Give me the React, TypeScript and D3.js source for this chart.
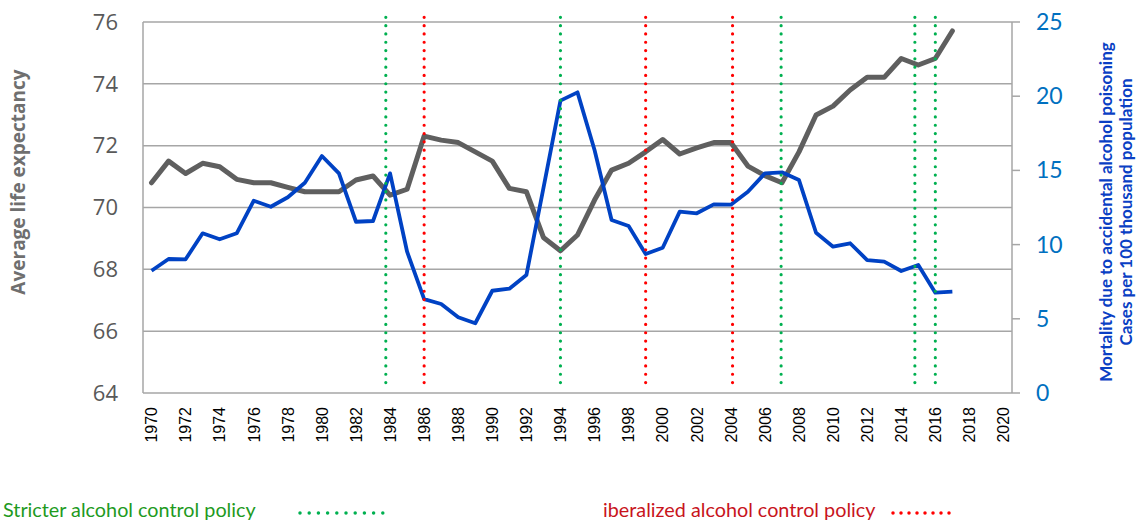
import * as d3 from "d3";

const years = d3.range(1970, 2018);
const tickYears = d3.range(1970, 2021, 2);

const lifeExpectancy = [
  70.8, 71.5, 71.1, 71.43, 71.32, 70.91, 70.8, 70.8, 70.65, 70.51, 70.51, 70.51,
  70.89, 71.02, 70.4, 70.59, 72.31, 72.18, 72.1, 71.8, 71.5, 70.62, 70.51, 69.03,
  68.6, 69.11, 70.24, 71.21, 71.43, 71.8, 72.2, 71.73, 71.93, 72.1, 72.1, 71.34,
  71.03, 70.8, 71.8, 72.99, 73.28, 73.8, 74.21, 74.21, 74.82, 74.61, 74.82, 75.71,
];

const poisoningMortality = [
  8.24, 9.03, 9.01, 10.76, 10.36, 10.76, 12.96, 12.55, 13.19, 14.17, 15.97, 14.8,
  11.54, 11.59, 14.8, 9.52, 6.33, 6.0, 5.1, 4.7, 6.89, 7.03, 7.95, 13.8, 19.7,
  20.26, 16.37, 11.66, 11.25, 9.37, 9.79, 12.22, 12.11, 12.71, 12.69, 13.56, 14.8,
  14.87, 14.35, 10.8, 9.86, 10.09, 8.96, 8.85, 8.22, 8.63, 6.76, 6.83,
];

// policy change markers (year positions as drawn)
const stricterYears = [1983.75, 1994, 2006.95, 2014.8, 2016];
const liberalizedYears = [1986, 1999, 2004.1];

const leftTicks = [64, 66, 68, 70, 72, 74, 76];
const rightTicks = [0, 5, 10, 15, 20, 25];

const W = 1136;
const H = 521;
const left = 143;
const right = 1012;
const top = 22;
const bottom = 393;

export default function App() {
  const x = d3
    .scaleLinear()
    .domain([1969.5, 2020.5])
    .range([left, right]);
  const yL = d3.scaleLinear().domain([64, 76]).range([bottom, top]);
  const yR = d3.scaleLinear().domain([0, 25]).range([bottom, top]);

  const lifeLine = d3
    .line<number>()
    .x((_, i) => x(years[i]))
    .y((d) => yL(d));
  const mortLine = d3
    .line<number>()
    .x((_, i) => x(years[i]))
    .y((d) => yR(d));

  const grid = "#a6a6a6";

  return (
    <svg
      width={W}
      height={H}
      style={{ position: "absolute", left: 0, top: 0, background: "#fff" }}
    >
      {/* gridlines */}
      {leftTicks.map((t) => (
        <line
          key={t}
          x1={left}
          x2={right}
          y1={yL(t)}
          y2={yL(t)}
          stroke={grid}
          strokeWidth={1.5}
        />
      ))}
      <line x1={left} x2={left} y1={top} y2={bottom} stroke={grid} strokeWidth={1.5} />
      <line x1={right} x2={right} y1={top} y2={bottom} stroke={grid} strokeWidth={1.5} />
      {rightTicks.map((t) => (
        <line
          key={t}
          x1={right}
          x2={right + 8}
          y1={yR(t)}
          y2={yR(t)}
          stroke={grid}
          strokeWidth={1.5}
        />
      ))}

      {/* left axis labels */}
      {leftTicks.map((t) => (
        <text
          key={t}
          x={118}
          y={yL(t)}
          dy="0.35em"
          textAnchor="end"
          fontFamily="'Open Sans', sans-serif"
          fontSize={22}
          fill="#595959"
        >
          {t}
        </text>
      ))}
      <text
        transform={`translate(25, 182) rotate(-90)`}
        textAnchor="middle"
        fontFamily="'Open Sans', sans-serif"
        fontWeight="bold"
        fontSize={19}
        fill="#6f6f6f"
      >
        Average life expectancy
      </text>

      {/* right axis labels */}
      {rightTicks.map((t) => (
        <text
          key={t}
          x={1036}
          y={yR(t)}
          dy="0.35em"
          fontFamily="Lato, sans-serif"
          fontSize={23}
          fill="#0070c0"
        >
          {t}
        </text>
      ))}
      <text
        transform={`translate(1112, 212) rotate(-90)`}
        textAnchor="middle"
        fontFamily="Lato, sans-serif"
        fontWeight="bold"
        fontSize={17}
        fill="#0a3fc4"
      >
        <tspan x={0} dy={0}>
          Mortality due to accidental alcohol poisoning
        </tspan>
        <tspan x={0} dy={20}>
          Cases per 100 thousand population
        </tspan>
      </text>

      {/* x labels */}
      {tickYears.map((yr) => (
        <text
          key={yr}
          transform={`translate(${x(yr)}, 407) rotate(-90)`}
          textAnchor="end"
          dy="0.36em"
          fontFamily="'Liberation Sans', Arial, sans-serif"
          fontSize={16}
          fill="#000"
        >
          {yr}
        </text>
      ))}

      {/* series */}
      <path
        d={lifeLine(lifeExpectancy) ?? ""}
        fill="none"
        stroke="#5f5f5f"
        strokeWidth={5}
        strokeLinejoin="round"
        strokeLinecap="round"
      />
      <path
        d={mortLine(poisoningMortality) ?? ""}
        fill="none"
        stroke="#0042c4"
        strokeWidth={3.8}
        strokeLinejoin="round"
      />

      {/* policy markers */}
      {stricterYears.map((yr) => (
        <line
          key={"s" + yr}
          x1={x(yr)}
          x2={x(yr)}
          y1={yL(76.15)}
          y2={yL(64.3)}
          stroke="#00b050"
          strokeWidth={3.2}
          strokeDasharray="0 8.3"
          strokeLinecap="round"
        />
      ))}
      {liberalizedYears.map((yr) => (
        <line
          key={"l" + yr}
          x1={x(yr)}
          x2={x(yr)}
          y1={yL(76.15)}
          y2={yL(64.3)}
          stroke="#ff0000"
          strokeWidth={3.2}
          strokeDasharray="0 8.3"
          strokeLinecap="round"
        />
      ))}

      {/* legend */}
      <text
        x={3}
        y={517}
        fontFamily="Lato, sans-serif"
        fontSize={19.8}
        fill="#1e9a1e"
      >
        Stricter alcohol control policy
      </text>
      <line
        x1={300}
        x2={390}
        y1={513}
        y2={513}
        stroke="#00b050"
        strokeWidth={3.5}
        strokeDasharray="0 9.2"
        strokeLinecap="round"
      />
      <text
        x={603}
        y={517}
        fontFamily="Lato, sans-serif"
        fontSize={19.8}
        fill="#c8141c"
      >
        iberalized alcohol control policy
      </text>
      <line
        x1={893}
        x2={950}
        y1={513}
        y2={513}
        stroke="#ff0000"
        strokeWidth={3.5}
        strokeDasharray="0 8"
        strokeLinecap="round"
      />
    </svg>
  );
}
